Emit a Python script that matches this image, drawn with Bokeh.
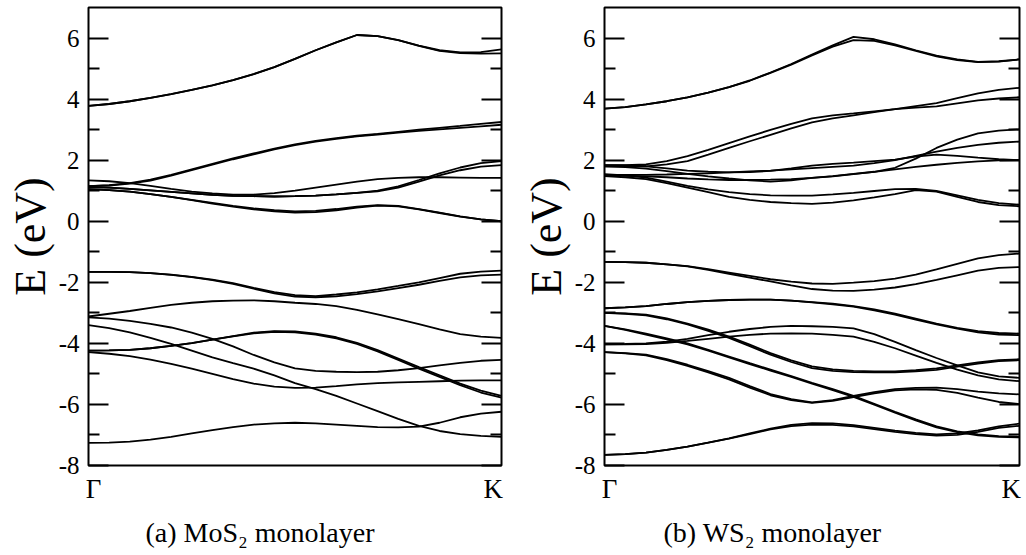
from bokeh.plotting import figure
from bokeh.layouts import row
from bokeh.models import LinearAxis, FixedTicker, Title, Range1d
from bokeh.embed import file_html
from bokeh.resources import INLINE

# ---------------- data ----------------
K_PATH = [0.0, 0.05, 0.1, 0.15, 0.2, 0.25, 0.3, 0.35, 0.4, 0.45, 0.5,
          0.55, 0.6, 0.65, 0.7, 0.75, 0.8, 0.85, 0.9, 0.95, 1.0]
K_TICKS = [0.012, 0.98]
K_LABELS = ["Γ", "K"]
E_MAJOR = [-8, -6, -4, -2, 0, 2, 4, 6]
E_MINOR = [-7, -5, -3, -1, 1, 3, 5]

# MoS2 monolayer bands (eV)
MOS2_C5A = [3.78, 3.84, 3.93, 4.04, 4.16, 4.30, 4.45, 4.62, 4.82, 5.05, 5.32,
            5.60, 5.86, 6.10, 6.06, 5.93, 5.75, 5.60, 5.53, 5.54, 5.63]
MOS2_C5B = [3.78, 3.84, 3.93, 4.04, 4.16, 4.30, 4.45, 4.62, 4.82, 5.05, 5.32,
            5.60, 5.86, 6.10, 6.06, 5.93, 5.74, 5.58, 5.51, 5.49, 5.50]
MOS2_C4A = [1.15, 1.18, 1.25, 1.36, 1.52, 1.70, 1.88, 2.06, 2.22, 2.38, 2.52,
            2.63, 2.72, 2.80, 2.86, 2.93, 3.00, 3.06, 3.12, 3.19, 3.25]
MOS2_C4B = [1.15, 1.17, 1.23, 1.33, 1.49, 1.67, 1.85, 2.03, 2.19, 2.35, 2.49,
            2.61, 2.70, 2.78, 2.84, 2.90, 2.96, 3.01, 3.06, 3.11, 3.16]
MOS2_C3 = [1.34, 1.31, 1.25, 1.16, 1.06, 0.97, 0.91, 0.87, 0.87, 0.92, 1.00,
           1.10, 1.20, 1.30, 1.38, 1.42, 1.44, 1.44, 1.43, 1.42, 1.42]
MOS2_C2A = [1.12, 1.10, 1.06, 1.01, 0.96, 0.91, 0.86, 0.83, 0.82, 0.81, 0.82,
            0.84, 0.88, 0.93, 1.00, 1.14, 1.35, 1.57, 1.76, 1.90, 1.97]
MOS2_C2B = [1.12, 1.10, 1.06, 1.01, 0.96, 0.91, 0.86, 0.83, 0.82, 0.81, 0.82,
            0.84, 0.88, 0.93, 0.98, 1.10, 1.30, 1.50, 1.67, 1.79, 1.84]
MOS2_C1A = [1.05, 1.02, 0.97, 0.89, 0.80, 0.70, 0.60, 0.50, 0.42, 0.36, 0.32,
            0.34, 0.40, 0.48, 0.53, 0.50, 0.40, 0.28, 0.16, 0.06, 0.00]
MOS2_C1B = [1.05, 1.02, 0.97, 0.89, 0.80, 0.69, 0.58, 0.48, 0.39, 0.32, 0.28,
            0.30, 0.36, 0.45, 0.51, 0.49, 0.39, 0.27, 0.15, 0.06, 0.00]
MOS2_V1A = [-1.66, -1.66, -1.67, -1.70, -1.75, -1.82, -1.91, -2.03, -2.18, -2.32, -2.42,
            -2.45, -2.40, -2.33, -2.23, -2.12, -2.00, -1.86, -1.72, -1.65, -1.62]
MOS2_V1B = [-1.66, -1.66, -1.67, -1.70, -1.76, -1.83, -1.93, -2.05, -2.21, -2.36, -2.47,
            -2.49, -2.46, -2.39, -2.30, -2.19, -2.08, -1.95, -1.84, -1.77, -1.75]
MOS2_V2 = [-3.12, -3.03, -2.94, -2.84, -2.74, -2.67, -2.62, -2.60, -2.59, -2.62, -2.67,
           -2.71, -2.78, -2.90, -3.05, -3.21, -3.37, -3.54, -3.70, -3.78, -3.82]
MOS2_V3 = [-3.15, -3.19, -3.26, -3.36, -3.48, -3.65, -3.85, -4.10, -4.38, -4.62, -4.82,
           -4.90, -4.93, -4.94, -4.93, -4.88, -4.81, -4.72, -4.64, -4.57, -4.54]
MOS2_V4A = [-4.24, -4.23, -4.21, -4.16, -4.08, -3.99, -3.88, -3.76, -3.65, -3.60, -3.61,
            -3.68, -3.80, -3.98, -4.22, -4.50, -4.78, -5.05, -5.32, -5.55, -5.72]
MOS2_V4B = [-4.24, -4.23, -4.21, -4.16, -4.08, -3.99, -3.88, -3.77, -3.67, -3.62, -3.64,
            -3.71, -3.84, -4.02, -4.26, -4.54, -4.83, -5.10, -5.37, -5.61, -5.78]
MOS2_V5 = [-3.40, -3.50, -3.64, -3.82, -4.02, -4.24, -4.46, -4.65, -4.83, -5.05, -5.30,
           -5.50, -5.72, -5.97, -6.22, -6.47, -6.70, -6.87, -6.97, -7.03, -7.06]
MOS2_V6 = [-4.29, -4.34, -4.42, -4.53, -4.67, -4.83, -5.00, -5.17, -5.32, -5.42, -5.46,
           -5.45, -5.40, -5.34, -5.30, -5.28, -5.26, -5.24, -5.22, -5.21, -5.21]
MOS2_V7 = [-7.26, -7.25, -7.22, -7.15, -7.06, -6.95, -6.84, -6.74, -6.66, -6.62, -6.60,
           -6.62, -6.66, -6.70, -6.74, -6.75, -6.73, -6.60, -6.42, -6.30, -6.24]

# WS2 monolayer bands (eV)
WS2_C5A = [3.69, 3.74, 3.83, 3.93, 4.06, 4.21, 4.39, 4.61, 4.87, 5.15, 5.46,
           5.76, 6.04, 5.96, 5.79, 5.60, 5.42, 5.30, 5.22, 5.24, 5.30]
WS2_C5B = [3.69, 3.74, 3.83, 3.93, 4.06, 4.21, 4.39, 4.60, 4.86, 5.13, 5.43,
           5.72, 5.93, 5.91, 5.76, 5.58, 5.40, 5.28, 5.21, 5.23, 5.30]
WS2_C4A = [1.84, 1.84, 1.86, 1.97, 2.13, 2.34, 2.56, 2.78, 2.99, 3.19, 3.37,
           3.47, 3.53, 3.60, 3.67, 3.77, 3.87, 4.03, 4.19, 4.30, 4.37]
WS2_C4B = [1.80, 1.80, 1.80, 1.86, 1.97, 2.18, 2.40, 2.62, 2.83, 3.04, 3.24,
           3.37, 3.47, 3.57, 3.67, 3.72, 3.76, 3.86, 3.96, 4.02, 4.06]
WS2_Y1 = [1.84, 1.83, 1.80, 1.73, 1.66, 1.62, 1.60, 1.61, 1.65, 1.73, 1.82,
          1.88, 1.92, 1.97, 2.02, 2.12, 2.18, 2.14, 2.08, 2.03, 2.00]
WS2_Y2 = [1.80, 1.77, 1.72, 1.64, 1.55, 1.47, 1.40, 1.34, 1.30, 1.34, 1.42,
          1.47, 1.54, 1.62, 1.75, 2.05, 2.40, 2.67, 2.88, 2.97, 3.01]
WS2_Y3 = [1.52, 1.52, 1.52, 1.53, 1.55, 1.57, 1.60, 1.63, 1.66, 1.70, 1.74,
          1.78, 1.82, 1.90, 2.00, 2.14, 2.28, 2.40, 2.50, 2.57, 2.61]
WS2_Y4 = [1.50, 1.49, 1.47, 1.44, 1.40, 1.37, 1.35, 1.35, 1.36, 1.38, 1.42,
          1.48, 1.55, 1.62, 1.70, 1.78, 1.85, 1.91, 1.96, 1.99, 2.00]
WS2_C1A = [1.54, 1.50, 1.43, 1.30, 1.16, 1.04, 0.95, 0.89, 0.85, 0.84, 0.84,
           0.88, 0.93, 0.99, 1.05, 1.06, 0.99, 0.85, 0.70, 0.59, 0.54]
WS2_C1B = [1.48, 1.44, 1.38, 1.25, 1.10, 0.95, 0.80, 0.70, 0.63, 0.59, 0.57,
           0.61, 0.68, 0.78, 0.89, 1.02, 0.97, 0.80, 0.63, 0.53, 0.49]
WS2_V1A = [-1.33, -1.34, -1.36, -1.41, -1.47, -1.57, -1.68, -1.79, -1.90, -1.98, -2.04,
           -2.05, -2.01, -1.96, -1.88, -1.75, -1.58, -1.40, -1.22, -1.11, -1.06]
WS2_V1B = [-1.33, -1.34, -1.36, -1.41, -1.48, -1.59, -1.72, -1.85, -1.97, -2.10, -2.22,
           -2.27, -2.28, -2.24, -2.17, -2.06, -1.92, -1.77, -1.62, -1.53, -1.50]
WS2_V2A = [-2.85, -2.82, -2.78, -2.71, -2.65, -2.61, -2.58, -2.57, -2.57, -2.60, -2.65,
           -2.70, -2.78, -2.89, -3.03, -3.19, -3.35, -3.49, -3.60, -3.66, -3.68]
WS2_V2B = [-2.85, -2.82, -2.78, -2.71, -2.65, -2.61, -2.58, -2.57, -2.57, -2.60, -2.66,
           -2.72, -2.80, -2.92, -3.06, -3.22, -3.38, -3.52, -3.64, -3.71, -3.73]
WS2_V3A = [-3.00, -3.02, -3.06, -3.18, -3.35, -3.55, -3.78, -4.04, -4.32, -4.56, -4.75,
           -4.85, -4.90, -4.92, -4.92, -4.88, -4.82, -4.72, -4.62, -4.55, -4.52]
WS2_V3B = [-3.00, -3.03, -3.08, -3.21, -3.38, -3.59, -3.82, -4.09, -4.37, -4.61, -4.81,
           -4.90, -4.94, -4.95, -4.95, -4.92, -4.87, -4.76, -4.66, -4.58, -4.55]
WS2_V4A = [-4.03, -4.02, -4.00, -3.94, -3.85, -3.73, -3.62, -3.53, -3.46, -3.43, -3.44,
           -3.46, -3.51, -3.70, -3.95, -4.22, -4.48, -4.72, -4.95, -5.08, -5.13]
WS2_V4B = [-4.03, -4.03, -4.02, -3.98, -3.92, -3.85, -3.78, -3.72, -3.68, -3.67, -3.68,
           -3.72, -3.78, -3.95, -4.16, -4.40, -4.64, -4.86, -5.05, -5.18, -5.24]
WS2_V5A = [-3.43, -3.54, -3.68, -3.84, -4.00, -4.21, -4.43, -4.65, -4.86, -5.07, -5.29,
           -5.50, -5.72, -5.98, -6.24, -6.49, -6.72, -6.88, -6.98, -7.04, -7.06]
WS2_V5B = [-3.43, -3.56, -3.71, -3.87, -4.03, -4.24, -4.46, -4.68, -4.89, -5.10, -5.32,
           -5.53, -5.75, -6.01, -6.27, -6.52, -6.75, -6.91, -7.01, -7.06, -7.08]
WS2_V6A = [-4.29, -4.32, -4.37, -4.52, -4.70, -4.91, -5.13, -5.40, -5.66, -5.83, -5.93,
           -5.86, -5.72, -5.60, -5.50, -5.46, -5.45, -5.50, -5.58, -5.64, -5.67]
WS2_V6B = [-4.29, -4.33, -4.39, -4.55, -4.74, -4.95, -5.18, -5.45, -5.70, -5.86, -5.95,
           -5.88, -5.76, -5.64, -5.54, -5.51, -5.52, -5.62, -5.78, -5.92, -5.99]
WS2_V7A = [-7.65, -7.63, -7.58, -7.49, -7.38, -7.25, -7.11, -6.95, -6.79, -6.67, -6.61,
           -6.62, -6.68, -6.77, -6.86, -6.93, -6.98, -6.95, -6.85, -6.72, -6.63]
WS2_V7B = [-7.65, -7.63, -7.58, -7.49, -7.38, -7.25, -7.12, -6.97, -6.82, -6.71, -6.66,
           -6.67, -6.72, -6.81, -6.90, -6.97, -7.02, -7.00, -6.90, -6.77, -6.70]

MOS2_BANDS = [MOS2_C5A, MOS2_C5B, MOS2_C4A, MOS2_C4B, MOS2_C3, MOS2_C2A, MOS2_C2B,
              MOS2_C1A, MOS2_C1B, MOS2_V1A, MOS2_V1B, MOS2_V2, MOS2_V3, MOS2_V4A,
              MOS2_V4B, MOS2_V5, MOS2_V6, MOS2_V7]
WS2_BANDS = [WS2_C5A, WS2_C5B, WS2_C4A, WS2_C4B, WS2_Y1, WS2_Y2, WS2_Y3, WS2_Y4,
             WS2_C1A, WS2_C1B, WS2_V1A, WS2_V1B, WS2_V2A, WS2_V2B, WS2_V3A, WS2_V3B,
             WS2_V4A, WS2_V4B, WS2_V5A, WS2_V5B, WS2_V6A, WS2_V6B, WS2_V7A, WS2_V7B]

CAPTIONS = ["(a) MoS\u2082 monolayer", "(b) WS\u2082 monolayer"]

SERIF = "Liberation Serif"


def make_panel(bands, caption, border_left, border_right, cap_offset):
    p = figure(width=513, height=555, x_range=Range1d(0, 1), y_range=Range1d(-8, 7),
               output_backend="svg", toolbar_location=None,
               min_border_left=border_left, min_border_right=border_right,
               min_border_top=7, min_border_bottom=84,
               background_fill_color="white", border_fill_color="white")
    p.grid.visible = False
    p.outline_line_color = "black"
    p.outline_line_width = 2

    for b in bands:
        p.line(K_PATH, b, line_color="black", line_width=1.8)

    # left axis
    ya = p.yaxis[0]
    ya.ticker = FixedTicker(ticks=E_MAJOR, minor_ticks=E_MINOR)
    ya.major_label_overrides = {t: str(t) for t in E_MAJOR}
    ya.major_tick_in = 20
    ya.major_tick_out = 0
    ya.minor_tick_in = 11
    ya.minor_tick_out = 0
    ya.major_tick_line_width = 2
    ya.minor_tick_line_width = 2
    ya.axis_line_color = None
    ya.major_label_text_font = SERIF
    ya.major_label_text_font_size = "25px"
    ya.major_label_text_color = "black"
    ya.major_label_standoff = 9
    ya.axis_label = "E (eV)"
    ya.axis_label_text_font = SERIF
    ya.axis_label_text_font_size = "44px"
    ya.axis_label_text_font_style = "normal"
    ya.axis_label_text_color = "black"
    ya.axis_label_standoff = 1

    # right axis: ticks only
    ra = LinearAxis(ticker=FixedTicker(ticks=E_MAJOR, minor_ticks=E_MINOR),
                    major_label_overrides={t: "" for t in E_MAJOR},
                    major_tick_in=20, major_tick_out=0, minor_tick_in=11, minor_tick_out=0,
                    major_tick_line_width=2, minor_tick_line_width=2,
                    axis_line_color=None, major_label_standoff=0)
    p.add_layout(ra, "right")

    # bottom axis: Γ and K
    xa = p.xaxis[0]
    xa.ticker = FixedTicker(ticks=K_TICKS)
    xa.major_label_overrides = {t: s for t, s in zip(K_TICKS, K_LABELS)}
    xa.major_tick_in = 0
    xa.major_tick_out = 0
    xa.minor_tick_in = 0
    xa.minor_tick_out = 0
    xa.axis_line_color = None
    xa.major_label_text_font = SERIF
    xa.major_label_text_font_size = "27px"
    xa.major_label_text_color = "black"
    xa.major_label_standoff = 8

    cap = Title(text=caption, align="left", offset=cap_offset,
                text_font=SERIF, text_font_size="28px", text_font_style="normal",
                text_color="black", standoff=16)
    p.add_layout(cap, "below")
    return p


p1 = make_panel(MOS2_BANDS, CAPTIONS[0], 88, 12, 57)
p2 = make_panel(WS2_BANDS, CAPTIONS[1], 91, 7, 59)
layout = row(p1, p2)

open("out.html", "w").write(file_html(layout, INLINE))
